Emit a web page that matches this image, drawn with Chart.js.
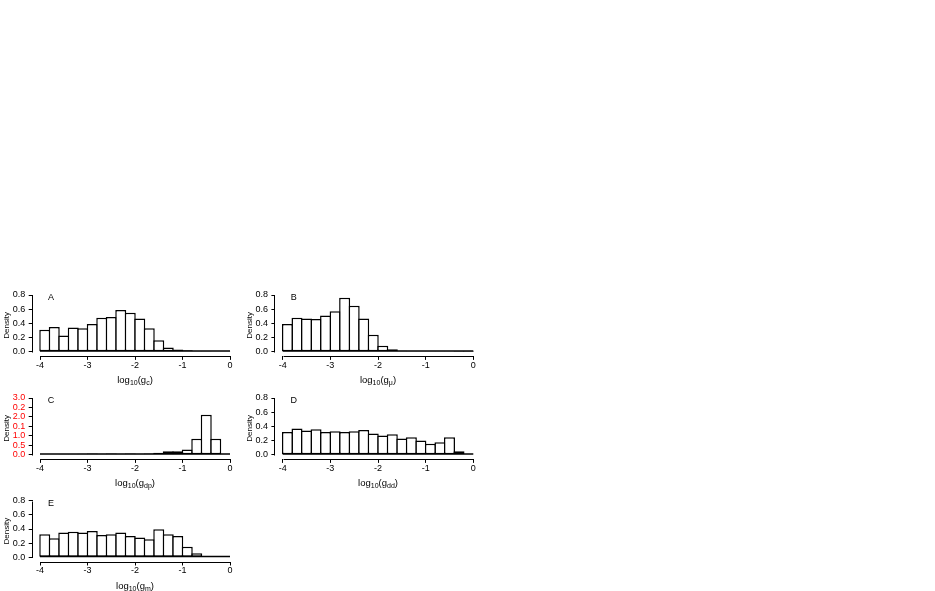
<!DOCTYPE html>
<html>
<head>
<meta charset="utf-8">
<script src="https://cdn.jsdelivr.net/npm/chart.js"></script>
<style>
  body { margin: 0; background: #fff; }
  #fig { position: relative; width: 935px; height: 591px; background: #fff;
         font-family: "Liberation Sans", Arial, sans-serif; color: #000; overflow: hidden; }
  #fig canvas { position: absolute; }
  .letter { position: absolute; font-size: 9px; line-height: 1; transform: translate(-50%, -50%); }
  .xtitle { position: absolute; font-size: 9.5px; line-height: 1; white-space: nowrap; transform: translate(-50%, -50%); }
  .xtitle sub { font-size: 7px; vertical-align: -2px; }
</style>
</head>
<body>
<div id="fig"></div>
<script>
// histogram bins of width 0.2 on log10 scale
const binCenters = [-3.9, -3.7, -3.5, -3.3, -3.1, -2.9, -2.7, -2.5, -2.3, -2.1,
                    -1.9, -1.7, -1.5, -1.3, -1.1, -0.9, -0.7, -0.5, -0.3, -0.1];
const xTicks = [-4, -3, -2, -1, 0];
const densTicks = [0, 0.2, 0.4, 0.6, 0.8];
const cTicks = [0, 0.5, 1, 1.5, 2, 2.5, 3];
const cTickLabels = ["0.0", "0.5", "1.0", "0.1", "2.0", "0.2", "3.0"];

const densA = [0.31, 0.35, 0.23, 0.34, 0.33, 0.39, 0.48, 0.49, 0.59, 0.55,
               0.47, 0.33, 0.16, 0.06, 0.03, 0.02, 0.01, 0.01, 0.005, 0.003];
const densB = [0.39, 0.48, 0.47, 0.46, 0.51, 0.57, 0.76, 0.65, 0.47, 0.24,
               0.085, 0.033, 0.012, 0.004, 0.003, 0.002, 0.002, 0.002, 0.001, 0.001];
const densC = [0.03, 0.03, 0.04, 0.04, 0.05, 0.06, 0.05, 0.06, 0.05, 0.07,
               0.05, 0.06, 0.1, 0.18, 0.18, 0.27, 0.85, 2.12, 0.85, 0];
const densD = [0.32, 0.37, 0.34, 0.36, 0.32, 0.33, 0.32, 0.33, 0.35, 0.30,
               0.27, 0.29, 0.23, 0.245, 0.20, 0.155, 0.175, 0.245, 0.047, 0];
const densE = [0.325, 0.27, 0.35, 0.36, 0.35, 0.37, 0.315, 0.325, 0.35, 0.30,
               0.28, 0.255, 0.395, 0.325, 0.30, 0.15, 0.056, 0, 0, 0];

const panels = [
  { letter: "A", values: densA, yTicks: densTicks, yLabels: null, ymax: 0.8, sub: "c",
    x0: 40, x1: 230, yZero: 351.7, yTop: 295, tickColor: "#000" },
  { letter: "B", values: densB, yTicks: densTicks, yLabels: null, ymax: 0.8, sub: "μ",
    x0: 282.7, x1: 473.3, yZero: 351.7, yTop: 295, tickColor: "#000" },
  { letter: "C", values: densC, yTicks: cTicks, yLabels: cTickLabels, ymax: 3.0, sub: "dp",
    x0: 40, x1: 230, yZero: 454.7, yTop: 398, tickColor: "#ff0000" },
  { letter: "D", values: densD, yTicks: densTicks, yLabels: null, ymax: 0.8, sub: "dd",
    x0: 282.7, x1: 473.3, yZero: 454.7, yTop: 398, tickColor: "#000" },
  { letter: "E", values: densE, yTicks: densTicks, yLabels: null, ymax: 0.8, sub: "m",
    x0: 40, x1: 230, yZero: 557.3, yTop: 500.7, tickColor: "#000" }
];

const BW = 1.5;
const FONT = "'Liberation Sans', Arial, sans-serif";
const fig = document.getElementById("fig");

// R style detached axes: line only between first and last tick, plus the hist baseline
const axisLines = {
  id: "axisLines",
  afterDraw(chart, args, o) {
    const { ctx, chartArea: a, scales: { x, y } } = chart;
    ctx.save();
    ctx.strokeStyle = "#000";
    ctx.lineWidth = BW;
    const yb = y.getPixelForValue(0) - BW / 2;
    ctx.beginPath();
    ctx.moveTo(x.getPixelForValue(xTicks[0]), yb);
    ctx.lineTo(x.getPixelForValue(xTicks[xTicks.length - 1]), yb);
    ctx.stroke();

    ctx.lineWidth = 1;
    const xl = Math.round(a.left) - 0.5;
    ctx.beginPath();
    ctx.moveTo(xl, Math.round(y.getPixelForValue(o.yTicks[0])) + 0.5);
    ctx.lineTo(xl, Math.round(y.getPixelForValue(o.yTicks[o.yTicks.length - 1])) + 0.5);
    const yl = Math.round(a.bottom) + 0.5;
    ctx.moveTo(Math.round(x.getPixelForValue(xTicks[0])) + 0.5, yl);
    ctx.lineTo(Math.round(x.getPixelForValue(xTicks[xTicks.length - 1])) + 0.5, yl);
    ctx.stroke();
    ctx.restore();
  }
};

function makePanel(p) {
  const offX = 7.3, offY = 4.2, yw = 33, xh = 22;
  const pxX = (p.x1 - p.x0) / 4;
  const pxY = (p.yZero - p.yTop) / p.ymax;
  const left = p.x0 - offX, right = p.x1 + offX;
  const top = p.yTop, bottom = p.yZero + offY;
  const L = Math.floor(left - yw), T = Math.floor(top - 10);
  const W = Math.ceil(right + 6 - L), H = Math.ceil(bottom + xh - T);

  const canvas = document.createElement("canvas");
  canvas.width = W; canvas.height = H;
  canvas.style.left = L + "px"; canvas.style.top = T + "px";
  canvas.style.width = W + "px"; canvas.style.height = H + "px";
  fig.appendChild(canvas);

  const binPx = pxX * 0.2;
  const titleLine = 9.6;

  new Chart(canvas, {
    type: "bar",
    data: {
      datasets: [{
        data: binCenters.map((c, i) => ({ x: c, y: p.values[i] })),
        backgroundColor: "#fff",
        borderColor: "#000",
        borderWidth: BW,
        borderSkipped: false,
        barPercentage: (binPx + BW) / binPx,
        categoryPercentage: 1
      }]
    },
    options: {
      responsive: false,
      animation: false,
      devicePixelRatio: 1,
      layout: { padding: { left: 0, top: top - T, right: L + W - right, bottom: 0 } },
      plugins: {
        legend: { display: false },
        tooltip: { enabled: false },
        axisLines: { yTicks: p.yTicks }
      },
      scales: {
        x: {
          type: "linear",
          bounds: "data",
          offset: false,
          min: -4 - offX / pxX,
          max: offX / pxX,
          afterBuildTicks: s => { s.ticks = xTicks.map(v => ({ value: v })); },
          afterFit: s => { s.height = T + H - bottom; },
          grid: { display: true, offset: false, drawOnChartArea: false, drawTicks: true,
                  tickLength: 4, color: "#000", lineWidth: 1 },
          border: { display: false },
          ticks: { autoSkip: false, maxRotation: 0, padding: 0, color: "#000",
                   font: { family: FONT, size: 9 }, callback: v => String(v) }
        },
        y: {
          type: "linear",
          bounds: "data",
          min: -offY / pxY,
          max: p.ymax,
          afterBuildTicks: s => { s.ticks = p.yTicks.map(v => ({ value: v })); },
          afterFit: s => { s.width = left - L; },
          grid: { display: true, drawOnChartArea: false, drawTicks: true,
                  tickLength: 4, color: "#000", lineWidth: 1 },
          border: { display: false },
          title: { display: true, text: "Density", color: "#000",
                   font: { family: FONT, size: 8, lineHeight: 1.2 },
                   padding: { top: (left - 26) - L - titleLine / 2, bottom: 0 } },
          ticks: { autoSkip: false, padding: 3.5, color: p.tickColor,
                   font: { family: FONT, size: 9 },
                   callback: v => p.yLabels ? p.yLabels[p.yTicks.indexOf(v)] : v.toFixed(1) }
        }
      }
    },
    plugins: [axisLines]
  });

  const letter = document.createElement("div");
  letter.className = "letter";
  letter.textContent = p.letter;
  letter.style.left = (p.x0 + 11) + "px";
  letter.style.top = (p.yTop + 2) + "px";
  fig.appendChild(letter);

  const xt = document.createElement("div");
  xt.className = "xtitle";
  xt.innerHTML = "log<sub>10</sub>(g<sub>" + p.sub + "</sub>)";
  xt.style.left = ((p.x0 + p.x1) / 2) + "px";
  xt.style.top = (p.yZero + 28.5) + "px";
  fig.appendChild(xt);
}

panels.forEach(makePanel);
</script>
</body>
</html>
